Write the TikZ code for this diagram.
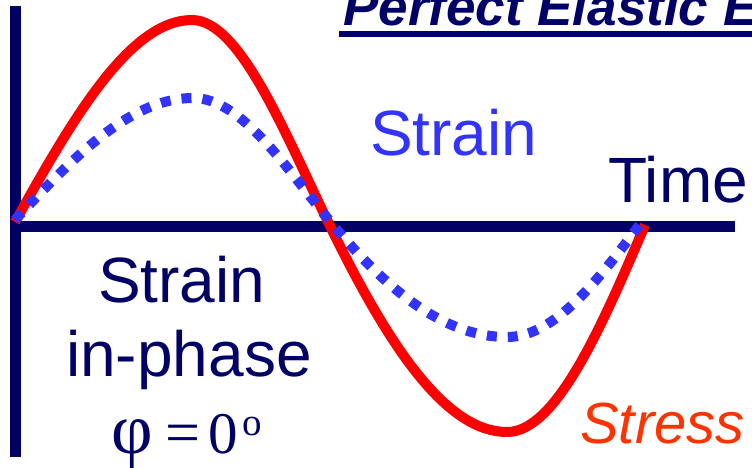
\documentclass[tikz,border=0pt]{standalone}
\usepackage{fontspec}
\setmainfont{Liberation Sans}
\newfontfamily\tnr{Liberation Serif}
\definecolor{navy}{HTML}{000066}
\definecolor{strainblue}{HTML}{3333FF}
\definecolor{stressred}{HTML}{FF0000}
\definecolor{stresstext}{HTML}{FF3300}
\begin{document}
\begin{tikzpicture}[x=1pt,y=-1pt,
  axis/.style={navy,line width=11pt},
  stresscurve/.style={stressred,line width=10pt},
  straincurve/.style={strainblue,line width=10pt,dash pattern=on 10pt off 11pt},
  lbl/.style={inner sep=0pt,anchor=base west}]
\useasboundingbox (0,0) rectangle (752,467);
\clip (0,0) rectangle (752,467);
% axes
\draw[axis] (15.5,6) -- (15.5,457);
\draw[axis] (10,226) -- (735,226);
% title
\node[lbl,text=navy] (title) at (343,25) {\fontsize{53}{53}\selectfont\bfseries\itshape Perfect Elastic E};
\fill[navy] (339,31) rectangle (752,36.5);
% stress curve
\draw[stresscurve] (15,222) .. controls (72.7,118.6) and (129.9,20) .. (192,20)
  .. controls (240.3,20) and (285,134) .. (330,226)
  .. controls (387.7,344) and (445.1,432) .. (507,432)
  .. controls (555.3,432) and (600,331) .. (645,225);
% strain curve
\draw[straincurve] (15,220) .. controls (73,157.5) and (130.5,98) .. (193,98)
  .. controls (242,98) and (287.4,170) .. (333,225)
  .. controls (389.7,293) and (446,337) .. (507,337)
  .. controls (554.6,337) and (598.7,280) .. (643,220);
% labels
\node[lbl,text=strainblue] (strain) at (370,155) {\fontsize{64}{64}\selectfont Strain};
\node[lbl,text=navy] (time) at (608,202) {\fontsize{64}{64}\selectfont Time};
\node[lbl,text=navy] (strain2) at (98,302) {\fontsize{64}{64}\selectfont Strain};
\node[lbl,text=navy] (inphase) at (66,376) {\fontsize{64}{64}\selectfont in-phase};
\node[lbl,text=navy] (phi) at (111,453) {\tnr\rlap{\fontsize{72}{72}\selectfont φ}\hspace{54pt}\rlap{\fontsize{62}{62}\selectfont =}\hspace{43.6pt}\rlap{\fontsize{59}{59}\selectfont 0}\hspace{33.4pt}\raisebox{18pt}{\fontsize{39}{39}\selectfont o}};
\node[lbl,text=stresstext] (stress) at (580,443) {\fontsize{58}{58}\selectfont\itshape Stress};
\end{tikzpicture}
\end{document}
